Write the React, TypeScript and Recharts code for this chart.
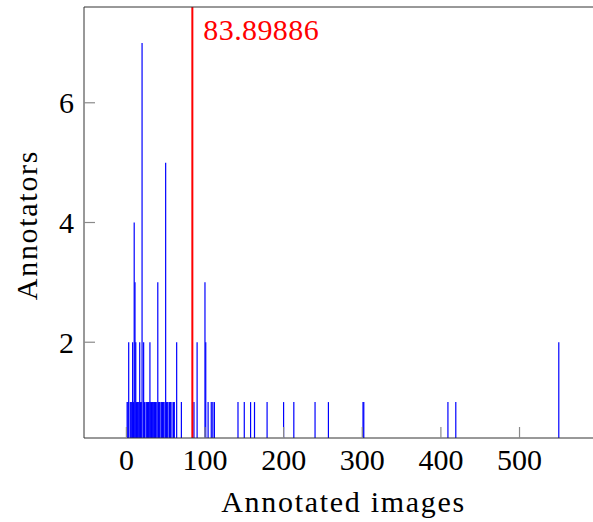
import React from "react";
import {
  BarChart,
  Bar,
  XAxis,
  YAxis,
  ReferenceLine,
  Label,
  Rectangle,
} from "recharts";

// annotated images per annotator (x) and how many annotators had that count (y)
const imageCounts = [
  1, 2, 3, 5, 6, 7, 8, 9, 10, 11, 12, 13, 14, 15, 16, 17, 18, 19, 20, 22,
  23, 25, 26, 27, 28, 29, 30, 31, 32, 33, 34, 35, 36, 37, 38, 40, 41, 42, 44,
  45, 46, 47, 48, 50, 51, 52, 53, 55, 56, 58, 60, 61, 64, 70, 86, 90, 100,
  101, 104, 108, 110, 112, 142, 150, 158, 163, 179, 200, 213, 240, 257, 301,
  302, 409, 419, 550,
];
const annotatorCounts = [
  1, 1, 2, 1, 1, 1, 2, 1, 4, 3, 2, 1, 1, 1, 1, 2, 1, 1, 7, 2,
  1, 1, 1, 1, 1, 1, 2, 1, 1, 1, 1, 1, 1, 1, 1, 3, 1, 1, 1,
  1, 1, 1, 1, 5, 1, 1, 1, 1, 1, 1, 1, 1, 2, 1, 1, 2, 3,
  2, 1, 1, 1, 1, 1, 1, 1, 1, 1, 1, 1, 1, 1, 1,
  1, 1, 1, 2,
];
const meanImages = 83.89886;

const xTicks = [0, 100, 200, 300, 400, 500];
const yTicks = [2, 4, 6];
const xDomain = [-53.9, 604.9];
const yDomain = [0.4, 7.6];

const data = imageCounts.map((x, i) => ({ x, n: annotatorCounts[i] }));

const font =
  "'Liberation Serif', 'DejaVu Serif', 'Noto Serif', 'Times New Roman', Times, Georgia, serif";
const tickStyle = { fontFamily: font, fontSize: 30, fill: "#000" };
const axisLine = { stroke: "#333", strokeWidth: 1 };
const tickLine = { stroke: "#8a8a8a", strokeWidth: 1.2 };

// recharts squeezes the bars below 1px here, so keep its centre but draw them 1.2px wide
const ThinBar = (props: any) => {
  const { x, y, width, height, fill } = props;
  const cx = x + width / 2;
  return <Rectangle x={cx - 0.6} y={y} width={1.2} height={height} fill={fill} />;
};

export default function App() {
  return (
    <div
      style={{
        position: "absolute",
        left: 0,
        top: 0,
        width: 593,
        height: 522,
        overflow: "hidden",
        background: "#fff",
        fontFamily: font,
      }}
    >
      <BarChart
        width={603}
        height={522}
        data={data}
        margin={{ top: 0, right: 0, bottom: 0, left: 0 }}
      >
        <XAxis
          xAxisId="b"
          dataKey="x"
          type="number"
          domain={xDomain}
          allowDataOverflow
          ticks={xTicks}
          interval={0}
          height={84}
          tickSize={-11}
          tickMargin={22}
          axisLine={axisLine}
          tickLine={tickLine}
          tick={tickStyle}
        >
          <Label
            content={() => (
              <text
                x={343.5}
                y={512}
                textAnchor="middle"
                style={{ fontFamily: font, fontSize: 30, letterSpacing: 1.7 }}
                fill="#000"
              >
                Annotated images
              </text>
            )}
          />
        </XAxis>
        <XAxis
          xAxisId="t"
          orientation="top"
          dataKey="x"
          type="number"
          domain={xDomain}
          allowDataOverflow
          ticks={xTicks}
          interval={0}
          height={7}
          tickSize={-11}
          axisLine={axisLine}
          tickLine={tickLine}
          tick={false}
        />
        <YAxis
          yAxisId="l"
          type="number"
          domain={yDomain}
          allowDataOverflow
          ticks={yTicks}
          interval={0}
          width={84}
          tickSize={-11}
          tickMargin={21}
          axisLine={axisLine}
          tickLine={tickLine}
          tick={tickStyle}
        >
          <Label
            content={() => (
              <text
                x={36.5}
                y={225}
                transform="rotate(-90, 36.5, 225)"
                textAnchor="middle"
                style={{ fontFamily: font, fontSize: 30, letterSpacing: 1.7 }}
                fill="#000"
              >
                Annotators
              </text>
            )}
          />
        </YAxis>
        <YAxis
          yAxisId="r"
          orientation="right"
          type="number"
          domain={yDomain}
          allowDataOverflow
          ticks={yTicks}
          interval={0}
          width={1}
          tickSize={-11}
          axisLine={axisLine}
          tickLine={tickLine}
          tick={false}
        />
        <Bar
          xAxisId="b"
          yAxisId="l"
          dataKey="n"
          fill="#0000ff"
          barSize={1}
          shape={ThinBar}
          isAnimationActive={false}
        />
        <ReferenceLine
          xAxisId="b"
          yAxisId="l"
          x={meanImages}
          stroke="#ff0000"
          strokeWidth={2}
          label={(props: any) => (
            <text
              x={props.viewBox.x + 11}
              y={39.5}
              style={{ fontFamily: font, fontSize: 30, letterSpacing: 0.4 }}
              fill="#ff0000"
            >
              {meanImages}
            </text>
          )}
        />
      </BarChart>
    </div>
  );
}
